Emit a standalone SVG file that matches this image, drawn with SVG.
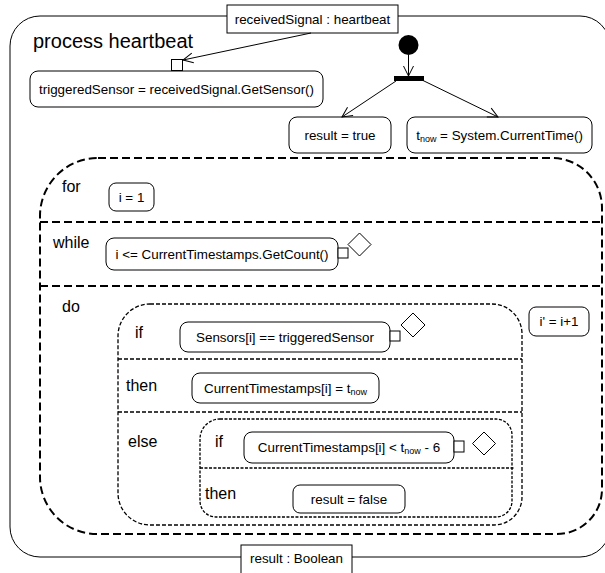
<svg xmlns="http://www.w3.org/2000/svg" width="605" height="573" viewBox="0 0 605 573">
<defs>
<marker id="arr" viewBox="0 0 12 12" refX="11" refY="6" markerWidth="12" markerHeight="12" markerUnits="userSpaceOnUse" orient="auto">
<path d="M1,1 L11,6 L1,11" fill="none" stroke="#000" stroke-width="1"/>
</marker>
<style>
text{font-family:"Liberation Sans",Arial,sans-serif;fill:#000}
.t{font-size:13.4px;text-anchor:middle}
.lbl{font-size:16px}
.act{fill:#fff;stroke:#000;stroke-width:1}
.pin{fill:#fff;stroke:#000;stroke-width:1}
.dia{fill:#fff;stroke:#000;stroke-width:1}
.loop{fill:none;stroke:#000;stroke-width:2;stroke-dasharray:8 4}
.cond{fill:none;stroke:#000;stroke-width:1.3;stroke-dasharray:4 2}
.cond2{fill:none;stroke:#000;stroke-width:1.3;stroke-dasharray:3 1.5}
.sub{font-size:9px}
</style>
</defs>

<g id="frame">
<rect x="10" y="16" width="600" height="541" rx="30" ry="30" fill="#fff" stroke="#000" stroke-width="1"/>
<text x="33" y="48" style="font-size:20px">process heartbeat</text>
</g>

<g id="param-in">
<rect x="227" y="5" width="171" height="28" fill="#fff" stroke="#000"/>
<text class="t" x="312.5" y="24">receivedSignal : heartbeat</text>
</g>

<g id="param-out">
<rect x="241" y="545" width="111" height="32" fill="#fff" stroke="#000"/>
<text class="t" x="296.5" y="563">result : Boolean</text>
</g>

<g id="getSensor">
<rect class="act" x="30" y="71" width="293" height="36" rx="8"/>
<text class="t" x="176.5" y="94">triggeredSensor = receivedSignal.GetSensor()</text>
<rect class="pin" x="171.5" y="59.5" width="11" height="11"/>
</g>

<g id="initial">
<circle cx="408.5" cy="45" r="10" fill="#000"/>
</g>

<g id="fork">
<rect x="394" y="76" width="30" height="5" fill="#000"/>
</g>

<g id="resultTrue">
<rect class="act" x="289" y="117" width="102" height="36" rx="8"/>
<text class="t" x="340" y="139.5">result = true</text>
</g>

<g id="tnow">
<rect class="act" x="407" y="117" width="185" height="36" rx="8"/>
<text class="t" x="499.5" y="139.5">t<tspan class="sub" dy="2">now</tspan><tspan dy="-2"> = System.CurrentTime()</tspan></text>
</g>

<g id="loop">
<path class="loop" d="M98,158 H552 A50,50 0 0 1 602,208 V489 A45,45 0 0 1 557,534 H97 A57,57 0 0 1 40,477 V216 A58,58 0 0 1 98,158 Z"/>
<line class="loop" x1="40" y1="222" x2="602" y2="222"/>
<line class="loop" x1="40" y1="286" x2="602" y2="286"/>
<text class="lbl" x="62" y="192">for</text>
<text class="lbl" x="53" y="248">while</text>
<text class="lbl" x="62" y="312">do</text>
</g>

<g id="init-i">
<rect class="act" x="109" y="183" width="45" height="28" rx="7"/>
<text class="t" x="131.5" y="201.5">i = 1</text>
</g>

<g id="test-while">
<rect class="act" x="106" y="238" width="232" height="32" rx="8"/>
<text class="t" x="222" y="258.5">i &lt;= CurrentTimestamps.GetCount()</text>
<rect class="pin" x="338" y="248" width="10" height="10"/>
<path class="dia" d="M359.5,233 L371,244.5 L359.5,256 L348,244.5 Z"/>
</g>

<g id="increment">
<rect class="act" x="529" y="307" width="60" height="29" rx="7"/>
<text class="t" x="559" y="326">i' = i+1</text>
</g>

<g id="cond-outer">
<path class="cond" d="M150,304 H492 A30,30 0 0 1 522,334 V497 A28,28 0 0 1 494,525 H150 A32,32 0 0 1 118,493 V336 A32,32 0 0 1 150,304 Z"/>
<line class="cond" x1="118" y1="359" x2="522" y2="359"/>
<line class="cond" x1="118" y1="412" x2="522" y2="412"/>
<text class="lbl" x="135" y="338">if</text>
<text class="lbl" x="126" y="391">then</text>
<text class="lbl" x="128" y="447">else</text>
</g>

<g id="test-sensor">
<rect class="act" x="180" y="322" width="210" height="30" rx="8"/>
<text class="t" x="285" y="341.5">Sensors[i] == triggeredSensor</text>
<rect class="pin" x="390" y="331" width="10" height="10"/>
<path class="dia" d="M413,313 L425,325 L413,337 L401,325 Z"/>
</g>

<g id="set-ts">
<rect class="act" x="192" y="373" width="187" height="30" rx="8"/>
<text class="t" x="285.5" y="392.5">CurrentTimestamps[i] = t<tspan class="sub" dy="2">now</tspan></text>
</g>

<g id="cond-inner">
<path class="cond2" d="M220,419 H496 A16,16 0 0 1 512,435 V501 A16,16 0 0 1 496,517 H216 A16,16 0 0 1 200,501 V439 A20,20 0 0 1 220,419 Z"/>
<line class="cond2" x1="200" y1="468" x2="514" y2="468"/>
<text class="lbl" x="215" y="447">if</text>
<text class="lbl" x="205" y="499">then</text>
</g>

<g id="test-timeout">
<rect class="act" x="244" y="432" width="210" height="31" rx="8"/>
<text class="t" x="349" y="452">CurrentTimestamps[i] &lt; t<tspan class="sub" dy="2">now</tspan><tspan dy="-2"> - 6</tspan></text>
<rect class="pin" x="454" y="441" width="10" height="11"/>
<path class="dia" d="M484,432 L495.5,443.5 L484,455 L472.5,443.5 Z"/>
</g>

<g id="resultFalse">
<rect class="act" x="293" y="485" width="112" height="28" rx="7"/>
<text class="t" x="349" y="504">result = false</text>
</g>

<g id="connectors" fill="none" stroke="#000" stroke-width="1">
<line x1="311" y1="33" x2="183" y2="60" marker-end="url(#arr)"/>
<line x1="408.5" y1="55" x2="408.5" y2="76" marker-end="url(#arr)"/>
<line x1="396" y1="81" x2="342" y2="117" marker-end="url(#arr)"/>
<line x1="422" y1="80" x2="498" y2="117" marker-end="url(#arr)"/>
</g>
</svg>
